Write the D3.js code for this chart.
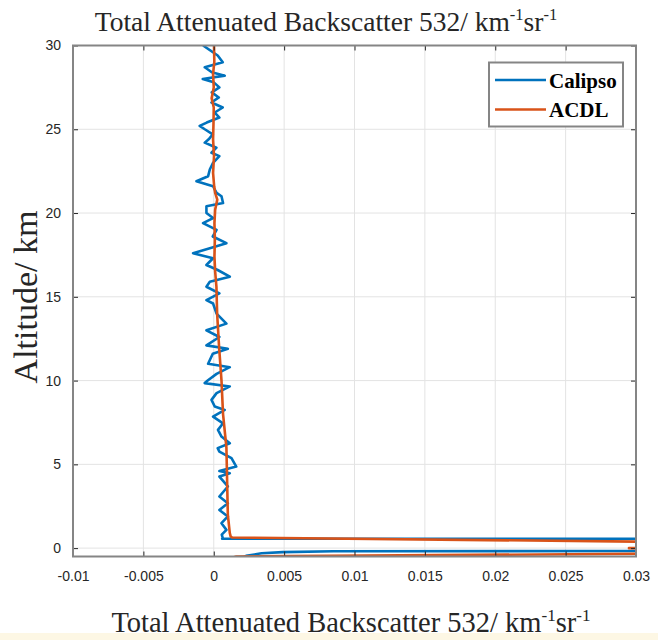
<!DOCTYPE html>
<html>
<head>
<meta charset="utf-8">
<script src="https://cdn.jsdelivr.net/npm/d3@7/dist/d3.min.js"></script>
<style>
  html, body { margin: 0; padding: 0; background: #ffffff; }
  svg { display: block; }
</style>
</head>
<body>
<script>
// ---------------- DATA ----------------
const xTicks = [-0.01, -0.005, 0, 0.005, 0.01, 0.015, 0.02, 0.025, 0.03];
const xTickLabels = ["-0.01", "-0.005", "0", "0.005", "0.01", "0.015", "0.02", "0.025", "0.03"];
const yTicks = [0, 5, 10, 15, 20, 25, 30];
const yTickLabels = ["0", "5", "10", "15", "20", "25", "30"];
const seriesNames = ["Calipso", "ACDL"];

// Calipso profile: altitude (km) and backscatter (km^-1 sr^-1)
const calipsoAlt = [30.0, 29.4, 29.0, 28.7, 28.4, 28.2, 28.0, 27.8, 27.5, 27.2, 26.9, 26.6, 26.3, 26.0, 25.7, 25.4, 25.2, 25.0,
  24.7, 24.4, 24.2, 23.9, 23.6, 23.4, 23.0, 22.6, 22.2, 21.9, 21.6, 21.2, 21.0, 20.6, 20.4, 20.0, 19.7, 19.4, 19.0, 18.6,
  18.2, 17.9, 17.6, 17.3, 16.9, 16.6, 16.2, 15.9, 15.6, 15.2, 14.8, 14.6, 14.0, 13.4, 13.0, 12.6, 12.1, 11.9, 11.6, 11.0,
  10.8, 10.4, 10.0, 9.85, 9.65, 9.25, 8.85, 8.45, 8.25, 7.85, 7.45, 7.06, 6.66, 6.26, 5.97, 5.76, 5.37, 4.87, 4.6, 4.47,
  4.27, 3.68, 3.08, 2.68, 2.28, 1.89, 1.49, 1.09, 0.8, 0.6, 0.56,
  0.5, 0.2, -0.14, -0.17, -0.19, -0.24, -0.31, -0.46, -0.6];
const calipsoVal = [-0.00076, 0.00028, 0.00064, -0.00064, -0.00014, 0.00078, -0.00078, 0.0, 0.0004, -0.00014, 0.00036, -0.00016,
  0.00064, 0.00007, 0.0004, -0.0005, -0.001, -0.00064, -0.00007, -0.00036, -0.00064, 0.00019, -0.00016, 0.0004, -0.00005,
  -0.00028, -0.0004, -0.00123, -0.00005, 0.0002, 0.00055, 0.00066, -0.00052, -0.00052, -0.00005, -0.00076, 0.0002, -0.00007,
  0.0009, -0.00028, -0.00147, -0.00005, -0.00052, 0.00028, 0.00114, -0.00028, -0.00052, 0.0004, -0.00052, -0.00005, 0.0002,
  0.0009, -0.00052, 0.0004, -0.00052, 0.001, -0.00007, -0.0004, 0.00114, 0.0002, -0.00043, -0.00064, 0.00114, 0.0002,
  -0.00016, 0.00007, 0.00078, -0.00005, 0.00066, 0.0003, 0.00055, 0.00114, 0.00028, 0.0004, 0.00126, 0.0016, 0.0004, 0.00114,
  0.0004, 0.001, 0.0004, 0.001, 0.0004, 0.001, 0.00055, 0.0009, 0.00057, 0.00064, 0.0006,
  0.5, 0.6, 0.2, 0.03, 0.0085, 0.0049, 0.0034, 0.0023, 0.002];

// ACDL profile
const acdlAlt = [30.0, 29.0, 28.3, 27.5, 26.85, 26.3, 25.3, 24.4, 23.4, 22.4, 21.6, 21.2, 20.8, 20.2, 19.4, 18.4, 17.4,
  16.5, 15.6, 14.0, 12.0, 10.0, 8.0, 6.0, 4.0, 2.0, 0.9, 0.7, 0.63,
  0.14, 0.0, -0.2, -0.34, -0.5, -0.6];
const acdlVal = [0.00002, 0.00004, -0.00005, 0.0, -0.00015, 0.0, -0.00002, -0.00005, 0.00002, -0.00005, 0.00003, 0.0001,
  0.00025, 0.0001, 0.00005, 0.00008, 0.00005, 0.0001, 0.00019, 0.00024, 0.00038, 0.00055, 0.00066, 0.0009, 0.00095,
  0.001, 0.00114, 0.0012, 0.0013,
  0.06, 0.0295, 0.06, 0.03, 0.0016, 0.0012];

// ---------------- LAYOUT ----------------
const W = 658, H = 640;
const plot = { left: 73, right: 636, top: 45.5, bottom: 556.5 };

const svg = d3.select("body").append("svg").attr("width", W).attr("height", H);

// pale bottom band
svg.append("rect").attr("x", 0).attr("y", 633).attr("width", W).attr("height", 7).attr("fill", "#fdf7e4");

const x = d3.scaleLinear().domain([-0.01, 0.03]).range([plot.left, plot.right]);
const y = d3.scaleLinear().domain([-0.5, 30]).range([plot.bottom, plot.top]);

// grid
const grid = svg.append("g").attr("stroke", "#e3e3e3").attr("stroke-width", 1);
xTicks.forEach(t => grid.append("line").attr("x1", x(t)).attr("x2", x(t)).attr("y1", plot.top).attr("y2", plot.bottom));
yTicks.forEach(t => grid.append("line").attr("x1", plot.left).attr("x2", plot.right).attr("y1", y(t)).attr("y2", y(t)));

// clip
svg.append("clipPath").attr("id", "clip").append("rect")
  .attr("x", plot.left).attr("y", plot.top)
  .attr("width", plot.right - plot.left).attr("height", plot.bottom - plot.top);

const line = d3.line().x(d => x(d.v)).y(d => y(d.a));
const calipso = calipsoAlt.map((a, i) => ({ a, v: calipsoVal[i] }));
const acdl = acdlAlt.map((a, i) => ({ a, v: acdlVal[i] }));
const colors = ["#0072BD", "#D95319"];

const lines = svg.append("g").attr("clip-path", "url(#clip)");
lines.append("path").datum(calipso).attr("d", line)
  .attr("fill", "none").attr("stroke", colors[0]).attr("stroke-width", 2.6).attr("stroke-linejoin", "round");
lines.append("path").datum(acdl).attr("d", line)
  .attr("fill", "none").attr("stroke", colors[1]).attr("stroke-width", 2.6).attr("stroke-linejoin", "round");

// axes with d3 axis generators (inward ticks)
const tickLen = 5;
const axB = d3.axisBottom(x).tickValues(xTicks).tickFormat((d, i) => xTickLabels[i]).tickSizeInner(-tickLen).tickSizeOuter(0).tickPadding(15);
const axT = d3.axisTop(x).tickValues(xTicks).tickFormat("").tickSizeInner(-tickLen).tickSizeOuter(0);
const axL = d3.axisLeft(y).tickValues(yTicks).tickFormat((d, i) => yTickLabels[i]).tickSizeInner(-tickLen).tickSizeOuter(0).tickPadding(12);
const axR = d3.axisRight(y).tickValues(yTicks).tickFormat("").tickSizeInner(-tickLen).tickSizeOuter(0);

function styleAxis(g) {
  g.select(".domain").remove();
  g.selectAll(".tick line").attr("stroke", "#262626").attr("stroke-width", 1);
  g.selectAll(".tick text").attr("fill", "#262626")
    .style("font-family", "'Liberation Sans', Arial, sans-serif").style("font-size", "14px");
}
svg.append("g").attr("transform", `translate(0,${plot.bottom})`).call(axB).call(styleAxis);
svg.append("g").attr("transform", `translate(0,${plot.top})`).call(axT).call(styleAxis);
svg.append("g").attr("transform", `translate(${plot.left},0)`).call(axL).call(styleAxis);
svg.append("g").attr("transform", `translate(${plot.right},0)`).call(axR).call(styleAxis);

// box
svg.append("rect").attr("x", plot.left).attr("y", plot.top)
  .attr("width", plot.right - plot.left).attr("height", plot.bottom - plot.top)
  .attr("fill", "none").attr("stroke", "#858585").attr("stroke-width", 2);

// titles
function superText(sel, fontSize) {
  sel.append("tspan").text("Total Attenuated Backscatter 532/ km");
  sel.append("tspan").attr("dy", -fontSize * 0.4).style("font-size", (fontSize * 0.6) + "px").text("-1");
  sel.append("tspan").attr("dy", fontSize * 0.4).text("sr");
  sel.append("tspan").attr("dy", -fontSize * 0.4).style("font-size", (fontSize * 0.6) + "px").text("-1");
}
const serif = "'Liberation Serif', 'Times New Roman', serif";
const title = svg.append("text").attr("x", 326).attr("y", 31).attr("text-anchor", "middle")
  .style("font-family", serif).style("font-size", "27.5px").attr("fill", "#262626");
superText(title, 27.5);

const xlab = svg.append("text").attr("x", 351).attr("y", 632).attr("text-anchor", "middle")
  .style("font-family", serif).style("font-size", "28.5px").attr("fill", "#262626");
superText(xlab, 28.5);

svg.append("text").attr("transform", `translate(37,297) rotate(-90)`)
  .attr("text-anchor", "middle")
  .style("font-family", serif).style("font-size", "34px").attr("fill", "#262626")
  .text("Altitude/ km");

// legend
const lg = svg.append("g");
lg.append("rect").attr("x", 489).attr("y", 62.5).attr("width", 134).attr("height", 64)
  .attr("fill", "#ffffff").attr("stroke", "#858585").attr("stroke-width", 2);
seriesNames.forEach((name, i) => {
  const yy = 80 + i * 29.5;
  lg.append("line").attr("x1", 495).attr("x2", 546).attr("y1", yy).attr("y2", yy)
    .attr("stroke", colors[i]).attr("stroke-width", 2.6);
  lg.append("text").attr("x", 549).attr("y", yy + 7.5)
    .style("font-family", serif).style("font-size", "21px").style("font-weight", "bold")
    .attr("fill", "#000").text(name);
});
</script>
</body>
</html>
